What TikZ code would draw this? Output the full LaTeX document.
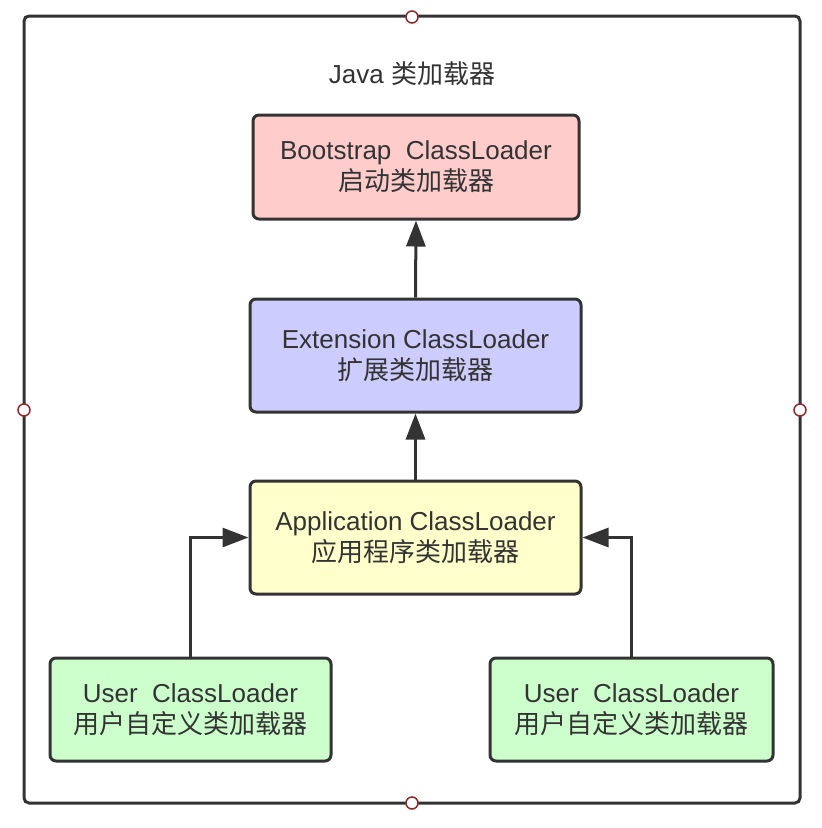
\documentclass[tikz,border=0pt]{standalone}
\usepackage{fontspec}
\setmainfont{Liberation Sans}
\newfontfamily\cjk{Noto Sans CJK SC}
\usetikzlibrary{arrows.meta,positioning}

\definecolor{edgegray}{HTML}{333333}
\definecolor{bootfill}{HTML}{FFCCCC}
\definecolor{extfill}{HTML}{CCCCFF}
\definecolor{appfill}{HTML}{FFFFCC}
\definecolor{userfill}{HTML}{CCFFCC}
\definecolor{pinred}{HTML}{8B2A2A}

\tikzset{
  loader/.style={draw=edgegray,line width=3pt,rounded corners=6pt,align=center,
    inner sep=0pt,text=edgegray,font=\fontsize{26}{31}\selectfont},
  pin/.style={circle,draw=pinred,fill=white,line width=1.5pt,minimum size=12pt,inner sep=0pt},
  link/.style={draw=edgegray,line width=3pt,-{Triangle[length=26pt,width=19pt]}}
}

\begin{document}
\begin{tikzpicture}[x=1pt,y=-1pt]
\useasboundingbox (0,0) rectangle (822,828);

% outer frame
\draw[edgegray,line width=3pt,rounded corners=5pt] (24,16) rectangle (800,803);
\node[text=edgegray,font=\fontsize{26}{30}\selectfont] (title) at (412,74) {Java {\cjk 类加载器}};

% loaders
\node[loader,fill=bootfill,minimum width=326pt,minimum height=104pt] (boot) at (416,167)
  {Bootstrap\ \ ClassLoader\\{\cjk 启动类加载器}};
\node[loader,fill=extfill,minimum width=331pt,minimum height=113pt] (ext) at (415.5,355.5)
  {Extension ClassLoader\\{\cjk 扩展类加载器}};
\node[loader,fill=appfill,minimum width=331pt,minimum height=113pt] (app) at (415.5,537.5)
  {Application ClassLoader\\{\cjk 应用程序类加载器}};
\node[loader,fill=userfill,minimum width=281pt,minimum height=103pt] (userl) at (190.5,709.5)
  {User\ \ ClassLoader\\{\cjk 用户自定义类加载器}};
\node[loader,fill=userfill,minimum width=283pt,minimum height=103pt] (userr) at (631.5,709.5)
  {User\ \ ClassLoader\\{\cjk 用户自定义类加载器}};

% delegation
\draw[link] (ext.north) -- (boot.south);
\draw[link] (app.north) -- (ext.south);
\draw[link] (userl.north) |- (app.west);
\draw[link] (userr.north) |- (app.east);

% frame handles
\node[pin] (pt) at (412,17) {};
\node[pin] (pl) at (24,410) {};
\node[pin] (pr) at (800,410) {};
\node[pin] (pb) at (412,803) {};
\end{tikzpicture}
\end{document}
